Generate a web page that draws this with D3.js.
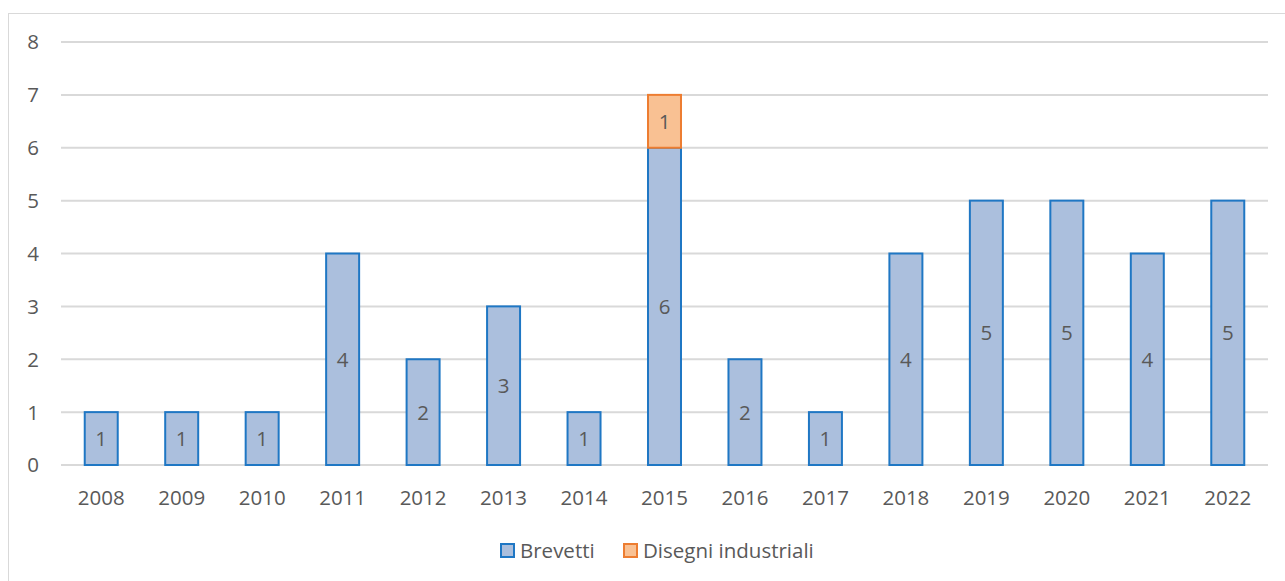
<!DOCTYPE html>
<html>
<head>
<meta charset="utf-8">
<script src="https://cdn.jsdelivr.net/npm/d3@7"></script>
<style>
  body { margin: 0; background: #fff; }
  text { font-family: "Open Sans", sans-serif; fill: #595959; }
</style>
</head>
<body>
<div id="chart"></div>
<script>
(function () {
  "use strict";

  const years = ["2008","2009","2010","2011","2012","2013","2014","2015","2016","2017","2018","2019","2020","2021","2022"]
  const brevetti = [1,1,1,4,2,3,1,6,2,1,4,5,5,4,5]
  const disegni = [0,0,0,0,0,0,0,1,0,0,0,0,0,0,0]
  const yTicks = [0,1,2,3,4,5,6,7,8]
  const seriesNames = ["Brevetti", "Disegni industriali"]
  const fills = ["#abbfdd", "#f9c193"]
  const strokes = ["#1f77c4", "#ed7d31"]

  const W = 1285, H = 581
  const svg = d3.select('#chart').append('svg')
    .attr('width', W).attr('height', H)

  // chart frame
  svg.append('rect')
    .attr('x', 8.5).attr('y', 13.5)
    .attr('width', W).attr('height', H)
    .attr('fill', 'none').attr('stroke', '#d9d9d9')

  const left = 61, right = 1268, top = 42, bottom = 465
  const fs = '20.5px'

  let x = d3.scaleBand().domain(years).range([left, right]).paddingInner(0.59).paddingOuter(0.295)
  let y = d3.scaleLinear().domain([0, 8]).range([bottom, top])

  // gridlines
  svg.append('g').selectAll('line').data(yTicks).enter().append('line')
    .attr('x1', left).attr('x2', right)
    .attr('y1', d => y(d)).attr('y2', d => y(d))
    .attr('stroke', '#d9d9d9').attr('stroke-width', 2)

  // y labels
  svg.append('g').selectAll('text').data(yTicks).enter().append('text')
    .attr('x', 33).attr('y', d => y(d))
    .attr('dy', '0.36em').attr('text-anchor', 'middle')
    .style('font-size', fs)
    .text(d => d)

  // stacked data
  let rows = years.map(function(yr, i){
    return {year: yr, Brevetti: brevetti[i], "Disegni industriali": disegni[i]}
  })
  let stack = d3.stack().keys(seriesNames)(rows)

  stack.forEach(function(layer, li){
    let g = svg.append('g')
    layer.forEach(function(seg){
      let v = seg[1] - seg[0]
      if (v <= 0) return
      g.append('rect')
        .attr('x', x(seg.data.year))
        .attr('y', y(seg[1]))
        .attr('width', x.bandwidth())
        .attr('height', y(seg[0]) - y(seg[1]))
        .attr('fill', fills[li])
        .attr('stroke', strokes[li])
        .attr('stroke-width', 2)
      g.append('text')
        .attr('x', x(seg.data.year) + x.bandwidth() / 2)
        .attr('y', (y(seg[0]) + y(seg[1])) / 2)
        .attr('dy', '0.36em').attr('text-anchor', 'middle')
        .style('font-size', fs)
        .text(v)
    })
  })

  // x labels
  svg.append('g').selectAll('text').data(years).enter().append('text')
    .attr('x', d => x(d) + x.bandwidth() / 2)
    .attr('y', 498).attr('dy', '0.36em')
    .attr('text-anchor', 'middle')
    .style('font-size', fs)
    .text(d => d)

  // legend
  let legendX = [501, 624]
  seriesNames.forEach(function(name, i){
    let lg = svg.append('g').attr('transform', `translate(${legendX[i]},551)`)
    lg.append('rect')
      .attr('x', 0).attr('y', -7).attr('width', 13).attr('height', 13)
      .attr('fill', fills[i]).attr('stroke', strokes[i]).attr('stroke-width', 2)
    lg.append('text')
      .attr('x', 19).attr('y', 0).attr('dy', '0.36em')
      .style('font-size', fs)
      .text(name)
  })
}());
</script>
</body>
</html>
